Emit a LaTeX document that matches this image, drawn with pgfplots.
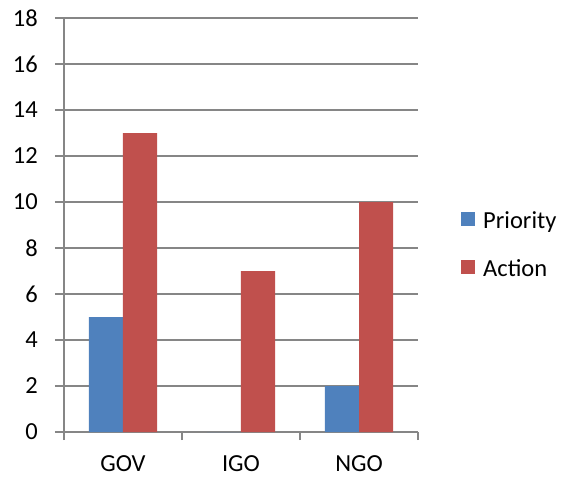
\documentclass[border=0pt]{standalone}
\usepackage{pgfplots}
\pgfplotsset{compat=1.18}
\usepackage{fontspec}
\setmainfont{Carlito}
\definecolor{prio}{HTML}{4F81BD}
\definecolor{act}{HTML}{C0504D}
\definecolor{gridgray}{HTML}{868686}
\newcommand{\chartfont}{\fontsize{24.5}{29}\selectfont}
\begin{document}
\begin{tikzpicture}
\useasboundingbox (0,0) rectangle (571pt,483pt);
\begin{axis}[
  at={(64pt,51pt)}, anchor=south west,
  scale only axis, width=354pt, height=414pt,
  xmin=0.5, xmax=3.5, ymin=0, ymax=18,
  axis x line=bottom, axis y line=left,
  axis line style={draw=gridgray, line width=1.5pt, -},
  ymajorgrids, major grid style={draw=gridgray, line width=1.5pt},
  ytick={0,2,...,18},
  xtick={1,2,3}, xticklabels={GOV,IGO,NGO},
  minor xtick={0.5,1.5,2.5,3.5},
  tick align=outside,
  major tick length=9pt, minor tick length=8pt,
  every major x tick/.append style={draw=none},
  every tick/.append style={draw=gridgray, line width=1.5pt},
  /pgf/number format/assume math mode=true,
  ticklabel style={font=\chartfont, inner sep=0pt},
  yticklabel style={anchor=east, xshift=-17pt},
  xticklabel style={anchor=north, yshift=-14pt},
  ybar=0pt, bar width=34pt,
  legend style={draw=none, fill=none, font=\chartfont, inner sep=0pt,
    at={(axis description cs:1.1215,0.452)}, anchor=west,
    row sep=25pt, column sep=6pt},
  legend image code/.code={\fill[#1] (0pt,-5pt) rectangle (14pt,9pt);},
  legend cell align=left,
]
\addplot[fill=prio, draw=none] coordinates {(1,5) (2,0) (3,2)};
\addplot[fill=act, draw=none] coordinates {(1,13) (2,7) (3,10)};
\legend{Priority, Action}
\end{axis}
\end{tikzpicture}
\end{document}
